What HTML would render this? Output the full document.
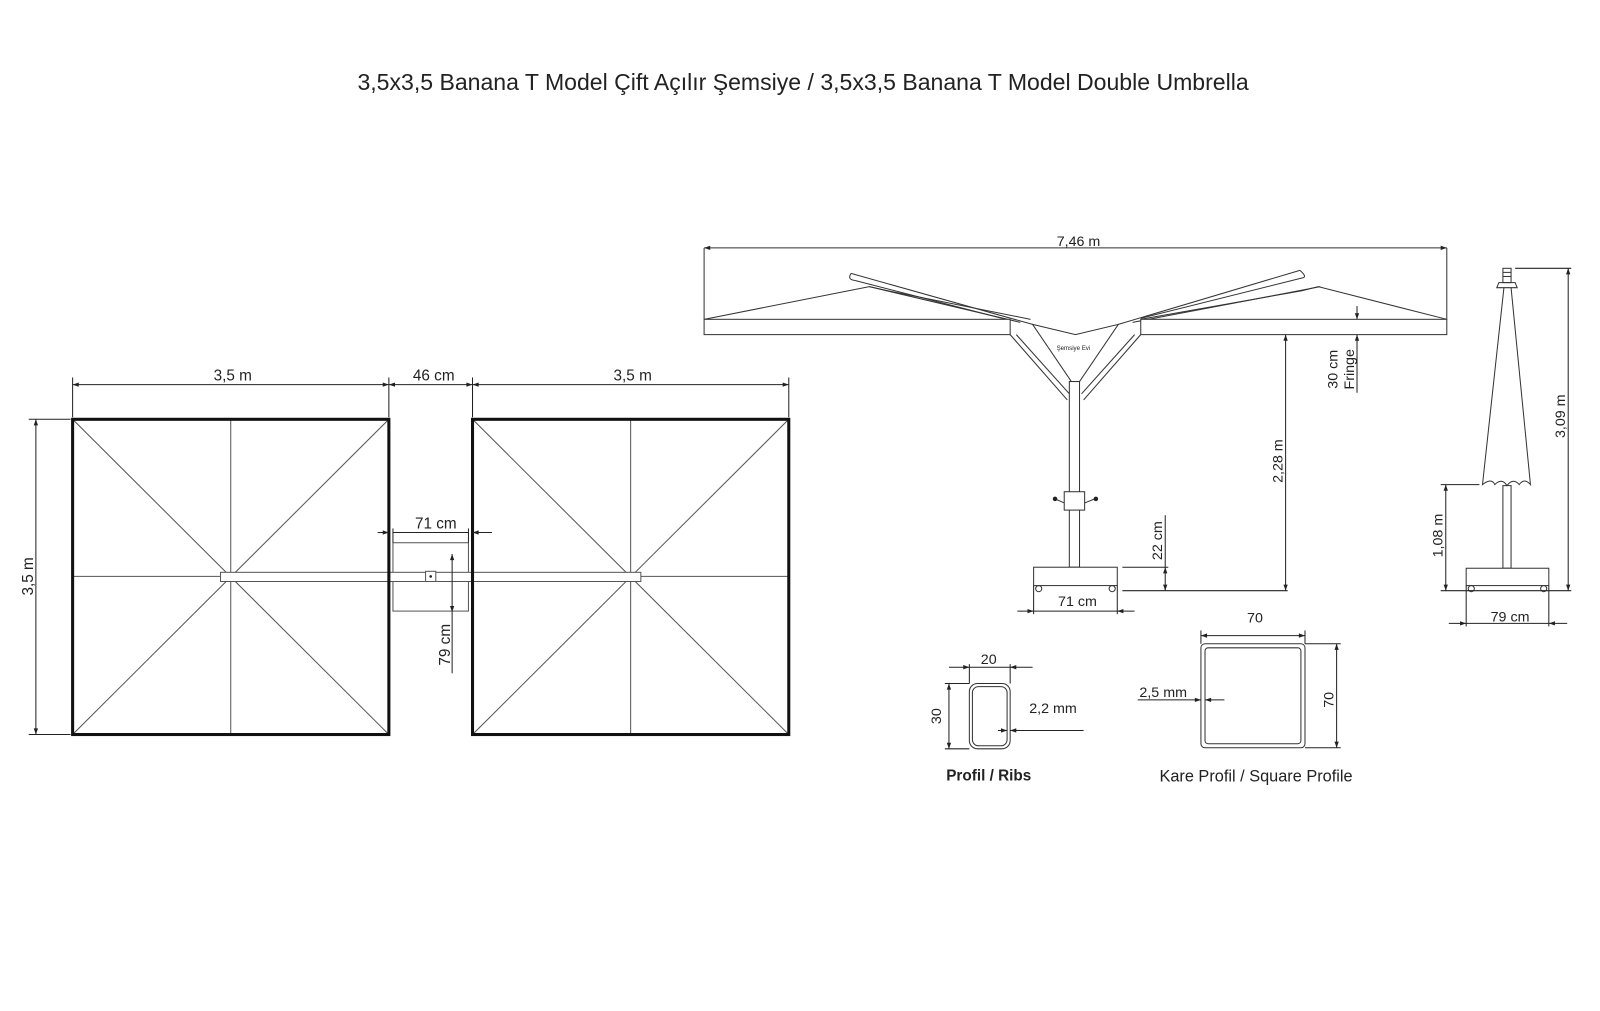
<!DOCTYPE html>
<html><head><meta charset="utf-8"><style>
html,body{margin:0;padding:0;background:#fff;}
svg{display:block;}
text{font-family:"Liberation Sans","DejaVu Sans",sans-serif;fill:#222;}
</style></head><body>
<svg width="1600" height="1011" viewBox="0 0 1568 991" xmlns="http://www.w3.org/2000/svg">
<defs>
<marker id="a" viewBox="0 0 10 10" refX="10" refY="5" markerWidth="9" markerHeight="6" orient="auto-start-reverse" markerUnits="userSpaceOnUse"><path d="M0,1.5 L10,5 L0,8.5 Z" fill="#222"/></marker>
</defs>
<rect width="1568" height="991" fill="#fff"/>
<text x="787" y="88" font-size="22.6" text-anchor="middle">3,5x3,5 Banana T Model Çift Açılır Şemsiye / 3,5x3,5 Banana T Model Double Umbrella</text>

<!-- PLAN VIEW -->
<g stroke="#555" stroke-width="1" fill="none">
<line x1="71" y1="411" x2="381" y2="720"/><line x1="381" y1="411" x2="71" y2="720"/>
<line x1="226" y1="411" x2="226" y2="720"/><line x1="71" y1="565" x2="381" y2="565"/>
<line x1="463" y1="411" x2="773" y2="720"/><line x1="773" y1="411" x2="463" y2="720"/>
<line x1="618" y1="411" x2="618" y2="720"/><line x1="463" y1="565" x2="773" y2="565"/>
<rect x="385" y="532" width="74" height="67"/>
</g>
<rect x="216" y="561" width="412" height="9" fill="#fff" stroke="#555"/>
<rect x="417" y="560" width="10" height="10" fill="#fff" stroke="#555"/>
<circle cx="422" cy="565" r="1.3" fill="#222"/>
<rect x="71" y="411" width="310" height="309" fill="none" stroke="#111" stroke-width="3"/>
<rect x="463" y="411" width="310" height="309" fill="none" stroke="#111" stroke-width="3"/>
<g stroke="#222" stroke-width="1">
<line x1="71" y1="370" x2="71" y2="409"/><line x1="381" y1="370" x2="381" y2="409"/>
<line x1="463" y1="370" x2="463" y2="409"/><line x1="773" y1="370" x2="773" y2="409"/>
<line x1="71" y1="377" x2="381" y2="377" marker-start="url(#a)" marker-end="url(#a)"/>
<line x1="381" y1="377" x2="463" y2="377" marker-start="url(#a)" marker-end="url(#a)"/>
<line x1="463" y1="377" x2="773" y2="377" marker-start="url(#a)" marker-end="url(#a)"/>
<line x1="28" y1="411" x2="69" y2="411"/><line x1="28" y1="720" x2="69" y2="720"/>
<line x1="35" y1="411" x2="35" y2="720" marker-start="url(#a)" marker-end="url(#a)"/>
<line x1="370" y1="522" x2="381" y2="522" marker-end="url(#a)"/>
<line x1="482" y1="522" x2="463" y2="522" marker-end="url(#a)"/>
<line x1="385" y1="518" x2="385" y2="532"/><line x1="459" y1="518" x2="459" y2="532"/>
<line x1="385" y1="522" x2="459" y2="522"/>
<line x1="443" y1="543" x2="443" y2="600" marker-start="url(#a)" marker-end="url(#a)"/>
<line x1="443" y1="600" x2="443" y2="660"/>
</g>
<text x="228" y="373" font-size="15" text-anchor="middle">3,5 m</text>
<text x="425" y="373" font-size="15" text-anchor="middle">46 cm</text>
<text x="620" y="373" font-size="15" text-anchor="middle">3,5 m</text>
<text x="427" y="518" font-size="15" text-anchor="middle">71 cm</text>
<text transform="translate(32,565) rotate(-90)" font-size="15" text-anchor="middle">3,5 m</text>
<text transform="translate(441,632) rotate(-90)" font-size="15" text-anchor="middle">79 cm</text>

<!-- SIDE VIEW -->
<g stroke="#333" stroke-width="1" fill="none">
<line x1="690" y1="243" x2="1418" y2="243" marker-start="url(#a)" marker-end="url(#a)"/>
<line x1="690" y1="243" x2="690" y2="313"/><line x1="1418" y1="243" x2="1418" y2="313"/>
<path d="M690,313 L852,281 L870,285 L1010,313"/>
<path d="M1418,313 L1292,281 L1276,285 L1118,313"/>
<path d="M834,268 L1012,318"/><path d="M838,275 L990,314"/>
<path d="M852,281 L1000,316"/>
<path d="M1274,265 L1096,318"/><path d="M1278,272 L1118,312"/>
<path d="M1294,281 L1110,316"/>
<path d="M834,268 Q830,274 838,275"/><path d="M1274,265 Q1280,270 1278,272"/>
<path d="M1012,318 L1054,328 L1096,318 L1058,374 L1050,374 Z" fill="#fff"/>
<line x1="990" y1="328" x2="1046" y2="392"/><line x1="996" y1="328" x2="1048" y2="386"/>
<line x1="1118" y1="328" x2="1062" y2="392"/><line x1="1112" y1="328" x2="1060" y2="386"/>
<rect x="1048" y="374" width="10" height="182"/>
<rect x="1043" y="482" width="20" height="18" fill="#fff"/>
<line x1="1034" y1="489" x2="1043" y2="493"/><line x1="1073" y1="489" x2="1063" y2="493"/>
<rect x="1013" y="556" width="82" height="18" fill="#fff"/>
<circle cx="1018" cy="577" r="3"/><circle cx="1090" cy="577" r="3"/>
</g>
<rect x="690" y="313" width="300" height="15" fill="#fff" stroke="#333"/>
<rect x="1118" y="313" width="300" height="15" fill="#fff" stroke="#333"/>
<circle cx="1034" cy="489" r="2.2" fill="#222"/><circle cx="1074" cy="489" r="2.2" fill="#222"/>
<text x="1052" y="343" font-size="6" text-anchor="middle">Şemsiye Evi</text>
<text x="1057" y="241" font-size="14" text-anchor="middle">7,46 m</text>
<g stroke="#222" stroke-width="1">
<line x1="1013" y1="574" x2="1013" y2="602"/><line x1="1095" y1="574" x2="1095" y2="602"/>
<line x1="997" y1="599" x2="1013" y2="599" marker-end="url(#a)"/>
<line x1="1112" y1="599" x2="1095" y2="599" marker-end="url(#a)"/>
<line x1="1013" y1="599" x2="1095" y2="599"/>
<line x1="1100" y1="579" x2="1262" y2="579"/>
<line x1="1100" y1="556" x2="1145" y2="556"/>
<line x1="1142" y1="505" x2="1142" y2="556"/>
<line x1="1142" y1="556" x2="1142" y2="579" marker-start="url(#a)" marker-end="url(#a)"/>
<line x1="1260" y1="328" x2="1260" y2="579" marker-start="url(#a)" marker-end="url(#a)"/>
<line x1="1330" y1="300" x2="1330" y2="313" marker-end="url(#a)"/>
<line x1="1330" y1="385" x2="1330" y2="328" marker-end="url(#a)"/>
</g>
<text x="1056" y="594" font-size="14" text-anchor="middle">71 cm</text>
<text transform="translate(1139,530) rotate(-90)" font-size="14" text-anchor="middle">22 cm</text>
<text transform="translate(1257,452) rotate(-90)" font-size="14" text-anchor="middle">2,28 m</text>
<text transform="translate(1311,362) rotate(-90)" font-size="14" text-anchor="middle">30 cm</text>
<text transform="translate(1327,362) rotate(-90)" font-size="14" text-anchor="middle">Fringe</text>

<!-- CLOSED UMBRELLA -->
<g stroke="#333" stroke-width="1" fill="none">
<rect x="1473" y="263" width="8" height="14"/>
<line x1="1473" y1="267" x2="1481" y2="267"/><line x1="1473" y1="271" x2="1481" y2="271"/>
<path d="M1467,282 L1469,277 L1485,277 L1487,282 Z"/>
<path d="M1474,282 L1453,475 Q1462,468 1465,475 Q1472,468 1477,476 Q1483,468 1489,475 Q1494,468 1500,475 L1481,282"/>
<rect x="1473" y="476" width="8" height="81"/>
<rect x="1437" y="557" width="81" height="17" fill="#fff"/>
<circle cx="1442" cy="577" r="3"/><circle cx="1513" cy="577" r="3"/>
</g>
<g stroke="#222" stroke-width="1">
<line x1="1485" y1="263" x2="1540" y2="263"/>
<line x1="1537" y1="263" x2="1537" y2="579" marker-start="url(#a)" marker-end="url(#a)"/>
<line x1="1412" y1="579" x2="1540" y2="579"/>
<line x1="1412" y1="475" x2="1450" y2="475"/>
<line x1="1417" y1="475" x2="1417" y2="579" marker-start="url(#a)" marker-end="url(#a)"/>
<line x1="1437" y1="574" x2="1437" y2="614"/><line x1="1518" y1="574" x2="1518" y2="614"/>
<line x1="1420" y1="611" x2="1437" y2="611" marker-end="url(#a)"/>
<line x1="1536" y1="611" x2="1518" y2="611" marker-end="url(#a)"/>
<line x1="1437" y1="611" x2="1518" y2="611"/>
</g>
<text transform="translate(1534,408) rotate(-90)" font-size="14" text-anchor="middle">3,09 m</text>
<text transform="translate(1414,525) rotate(-90)" font-size="14" text-anchor="middle">1,08 m</text>
<text x="1480" y="609" font-size="14" text-anchor="middle">79 cm</text>

<!-- PROFILES -->
<g stroke="#333" stroke-width="1" fill="none">
<rect x="950" y="670" width="40" height="64" rx="8"/>
<rect x="953" y="673" width="34" height="58" rx="6"/>
<rect x="1177" y="631" width="102" height="102" rx="4"/>
<rect x="1181" y="635" width="94" height="94" rx="3"/>
</g>
<g stroke="#222" stroke-width="1">
<line x1="950" y1="651" x2="950" y2="670"/><line x1="990" y1="651" x2="990" y2="670"/>
<line x1="930" y1="654" x2="950" y2="654" marker-end="url(#a)"/>
<line x1="1012" y1="654" x2="990" y2="654" marker-end="url(#a)"/>
<line x1="950" y1="654" x2="990" y2="654"/>
<line x1="926" y1="670" x2="950" y2="670"/><line x1="926" y1="734" x2="950" y2="734"/>
<line x1="930" y1="670" x2="930" y2="734" marker-start="url(#a)" marker-end="url(#a)"/>
<line x1="978" y1="716" x2="987" y2="716" marker-end="url(#a)"/>
<line x1="1000" y1="716" x2="990" y2="716" marker-end="url(#a)"/>
<line x1="990" y1="716" x2="1062" y2="716"/>
<line x1="1177" y1="618" x2="1177" y2="631"/><line x1="1279" y1="618" x2="1279" y2="631"/>
<line x1="1177" y1="623" x2="1279" y2="623" marker-start="url(#a)" marker-end="url(#a)"/>
<line x1="1279" y1="631" x2="1314" y2="631"/><line x1="1279" y1="733" x2="1314" y2="733"/>
<line x1="1310" y1="631" x2="1310" y2="733" marker-start="url(#a)" marker-end="url(#a)"/>
<line x1="1115" y1="686" x2="1177" y2="686" marker-end="url(#a)"/>
<line x1="1200" y1="686" x2="1181" y2="686" marker-end="url(#a)"/>
</g>
<text x="969" y="651" font-size="14" text-anchor="middle">20</text>
<text transform="translate(922,702) rotate(-90)" font-size="14" text-anchor="middle">30</text>
<text x="1032" y="699" font-size="14" text-anchor="middle">2,2 mm</text>
<text x="1230" y="610" font-size="14" text-anchor="middle">70</text>
<text transform="translate(1307,686) rotate(-90)" font-size="14" text-anchor="middle">70</text>
<text x="1140" y="683" font-size="14" text-anchor="middle">2,5 mm</text>
<text x="969" y="765" font-size="15" font-weight="bold" text-anchor="middle">Profil / Ribs</text>
<text x="1231" y="766" font-size="16" text-anchor="middle">Kare Profil / Square Profile</text>
</svg>
</body></html>
